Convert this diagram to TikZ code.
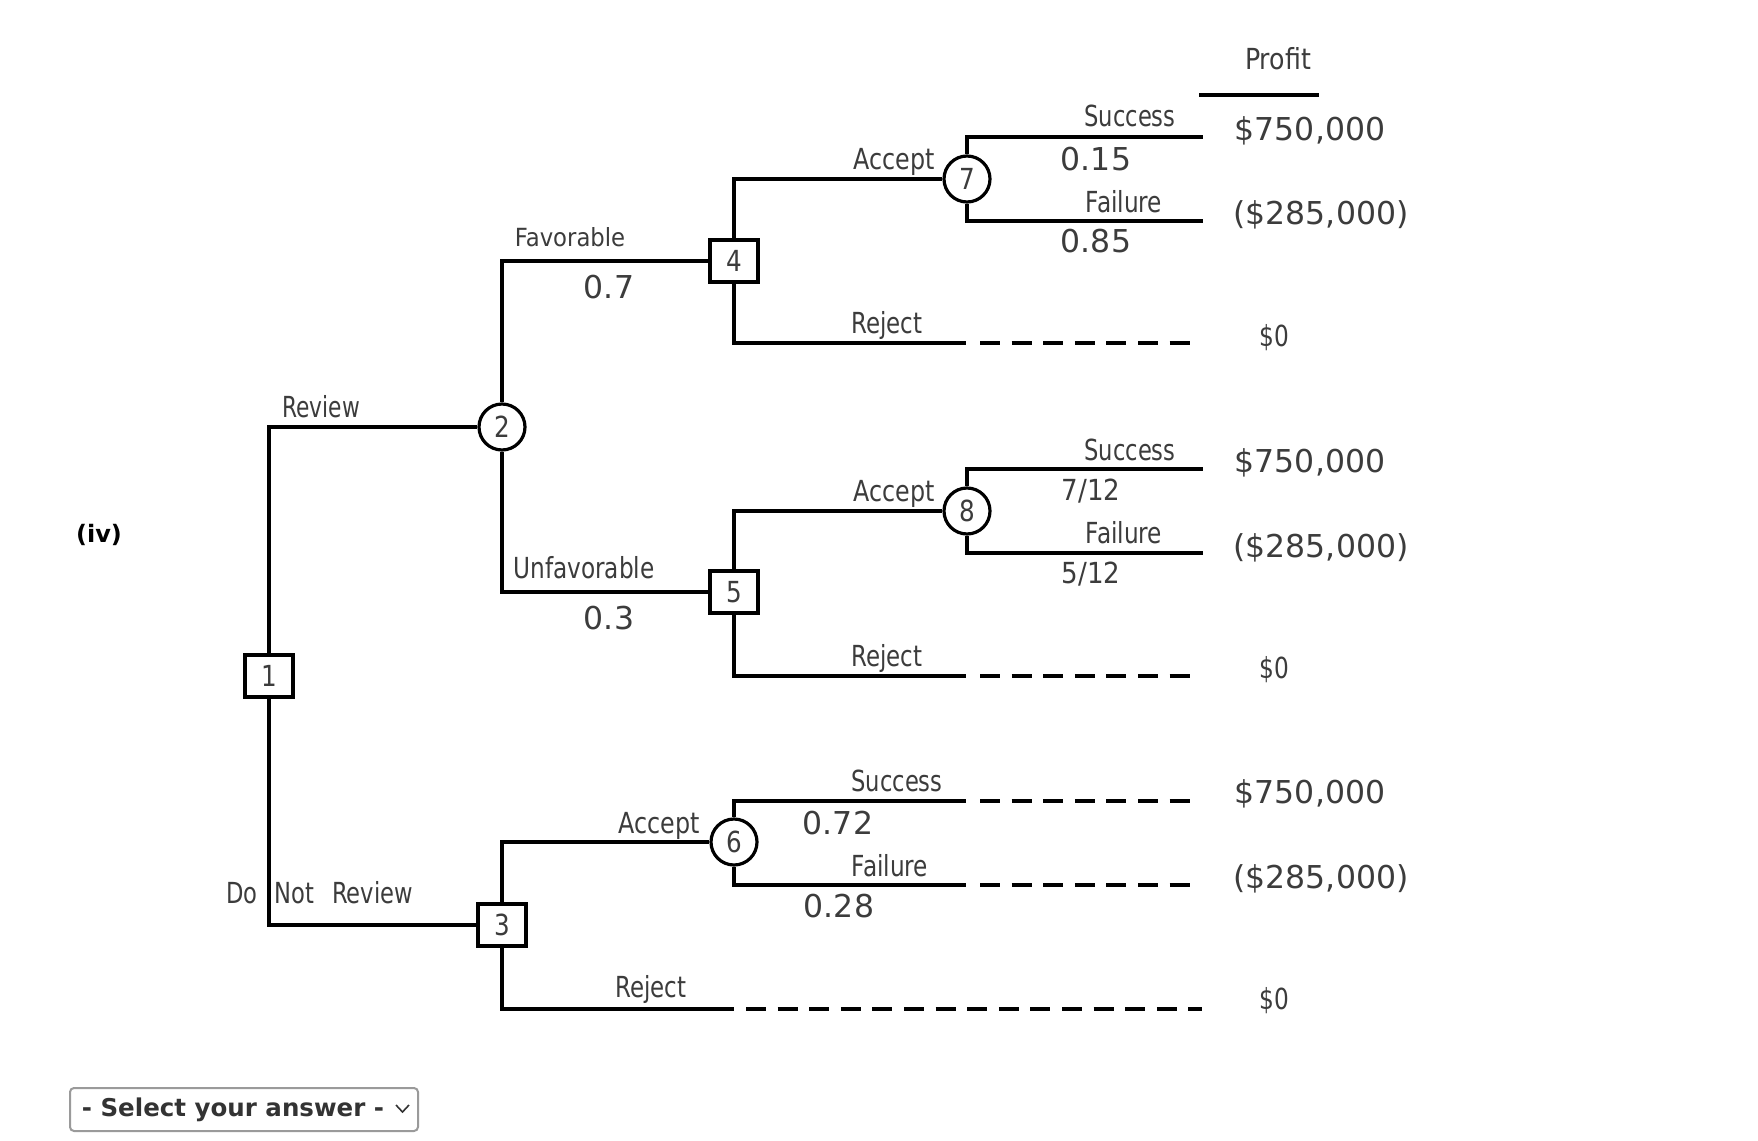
\documentclass[tikz,border=0pt]{standalone}
\usepackage{fontspec}
\setmainfont{DejaVu Sans}
\usepackage{graphicx}
\definecolor{txt}{HTML}{3C3C3C}
\definecolor{seltxt}{HTML}{333333}
\definecolor{selbrd}{HTML}{9A9A9A}
\newcommand\nx[2]{\scalebox{#1}[1]{#2}}
\tikzset{
  ln/.style={line width=3.2pt, black},
  dsh/.style={line width=3.2pt, black, dash pattern=on 20pt off 11.6pt},
  decbox/.style={draw, line width=3.2pt, minimum width=48pt, minimum height=42pt, inner sep=0pt, fill=white,
    text=txt, font=\fontsize{29}{29}\selectfont, text height=21pt, text depth=0pt},
  chnode/.style={draw, circle, line width=3.2pt, minimum size=46pt, inner sep=0pt, fill=white,
    text=txt, font=\fontsize{29}{29}\selectfont, text height=21pt, text depth=0pt},
  lab/.style={text=txt, inner sep=0pt, font=\fontsize{29}{29}\selectfont, text height=21pt, text depth=0pt},
  num/.style={text=txt, inner sep=0pt, font=\fontsize{31.5}{31.5}\selectfont, text height=23pt, text depth=0pt},
}
\begin{document}
\begin{tikzpicture}[x=1pt,y=-1pt]
\useasboundingbox (0,0) rectangle (1758,1140);
\fill[white] (0,0) rectangle (1758,1140);

% decision / chance nodes
\node[decbox] (n1) at (269,676) {\nx{.85}{1}};
\node[chnode] (n2) at (502,427) {\nx{.85}{2}};
\node[decbox] (n3) at (502,925) {\nx{.85}{3}};
\node[decbox] (n4) at (734,261) {\nx{.85}{4}};
\node[decbox] (n5) at (734,592) {\nx{.85}{5}};
\node[chnode] (n6) at (734,842) {\nx{.85}{6}};
\node[chnode] (n7) at (967,179) {\nx{.85}{7}};
\node[chnode] (n8) at (967,511) {\nx{.85}{8}};

% leaf coordinates
\coordinate (s7) at (1203,137);
\coordinate (f7) at (1203,221);
\coordinate (r4) at (966,343);
\coordinate (r4a) at (980,343);
\coordinate (r4b) at (1191,343);
\coordinate (s8) at (1203,469);
\coordinate (f8) at (1203,553);
\coordinate (r5) at (966,676);
\coordinate (r5a) at (980,676);
\coordinate (r5b) at (1191,676);
\coordinate (s6) at (966,801);
\coordinate (s6a) at (980,801);
\coordinate (s6b) at (1191,801);
\coordinate (f6) at (966,885);
\coordinate (f6a) at (980,885);
\coordinate (f6b) at (1191,885);
\coordinate (r3) at (734,1009);
\coordinate (r3a) at (746,1009);
\coordinate (r3b) at (1202,1009);

% connectors
\draw[ln] (n1.north) |- (n2.west);
\draw[ln] (n1.south) |- (n3.west);
\draw[ln] (n2.north) |- (n4.west);
\draw[ln] (n2.south) |- (n5.west);
\draw[ln] (n4.north) |- (n7.west);
\draw[ln] (n4.south) |- (r4);
\draw[dsh] (r4a) -- (r4b);
\draw[ln] (n7.north) |- (s7);
\draw[ln] (n7.south) |- (f7);
\draw[ln] (n5.north) |- (n8.west);
\draw[ln] (n5.south) |- (r5);
\draw[dsh] (r5a) -- (r5b);
\draw[ln] (n8.north) |- (s8);
\draw[ln] (n8.south) |- (f8);
\draw[ln] (n3.north) |- (n6.west);
\draw[ln] (n3.south) |- (r3);
\draw[dsh] (r3a) -- (r3b);
\draw[ln] (n6.north) |- (s6);
\draw[dsh] (s6a) -- (s6b);
\draw[ln] (n6.south) |- (f6);
\draw[dsh] (f6a) -- (f6b);

% header
\node[lab] (profit) at (1278,59) {\nx{.87}{Profit}};
\draw[ln] (1199,95) -- (1319,95);

% labels: left part
\node[lab] (lrev) at (321,407) {\nx{.75}{Review}};
\node[lab, anchor=west] (ldnr) at (226,893) {\nx{.78}{Do}\hspace{17pt}\nx{.78}{Not}\hspace{18pt}\nx{.78}{Review}};
\node[lab, font=\fontsize{25}{25}\selectfont, text height=18pt] (lfav) at (570,237) {\nx{.91}{Favorable}};
\node[num] (pfav) at (609,287) {0.7};
\node[lab] (lunf) at (584,568) {\nx{.8}{Unfavorable}};
\node[num] (punf) at (609,618) {0.3};

% top branch
\node[lab] (la4) at (894,159) {\nx{.82}{Accept}};
\node[lab] (lr4) at (887,323) {\nx{.79}{Reject}};
\node[lab] (ls7) at (1130,116) {\nx{.78}{Success}};
\node[num] (ps7) at (1096,159) {0.15};
\node[lab] (lf7) at (1124,202) {\nx{.8}{Failure}};
\node[num] (pf7) at (1096,241) {0.85};
\node[num] (v1) at (1310,129) {\$750,000};
\node[num] (v2) at (1321,213) {(\$285,000)};
\node[lab] (v3) at (1274,336) {\nx{.8}{\$0}};

% middle branch
\node[lab] (la5) at (894,491) {\nx{.82}{Accept}};
\node[lab] (lr5) at (887,656) {\nx{.79}{Reject}};
\node[lab] (ls8) at (1130,450) {\nx{.78}{Success}};
\node[lab] (ps8) at (1091,490) {\nx{.9}{7/12}};
\node[lab] (lf8) at (1124,533) {\nx{.8}{Failure}};
\node[lab] (pf8) at (1091,573) {\nx{.9}{5/12}};
\node[num] (v4) at (1310,461) {\$750,000};
\node[num] (v5) at (1321,546) {(\$285,000)};
\node[lab] (v6) at (1274,668) {\nx{.8}{\$0}};

% bottom branch
\node[lab] (la3) at (659,823) {\nx{.82}{Accept}};
\node[lab] (lr3) at (651,987) {\nx{.79}{Reject}};
\node[lab] (ls6) at (897,781) {\nx{.78}{Success}};
\node[num] (ps6) at (838,823) {0.72};
\node[lab] (lf6) at (890,866) {\nx{.8}{Failure}};
\node[num] (pf6) at (839,906) {0.28};
\node[num] (v7) at (1310,792) {\$750,000};
\node[num] (v8) at (1321,877) {(\$285,000)};
\node[lab] (v9) at (1274,999) {\nx{.8}{\$0}};

% question label
\node[inner sep=0pt, font=\fontsize{24}{24}\selectfont\bfseries, text=black] (iv) at (99,535) {(iv)};

% select box
\draw[selbrd, line width=2pt, rounded corners=4pt, fill=white] (70,1088) rectangle (418,1131);
\node[inner sep=0pt, font=\fontsize{24.5}{24.5}\selectfont\bfseries, text=seltxt] (sel) at (233,1110) {- Select your answer -};
\draw[seltxt, line width=1.6pt] (396,1105) -- (402.5,1112) -- (409,1105);
\end{tikzpicture}
\end{document}
